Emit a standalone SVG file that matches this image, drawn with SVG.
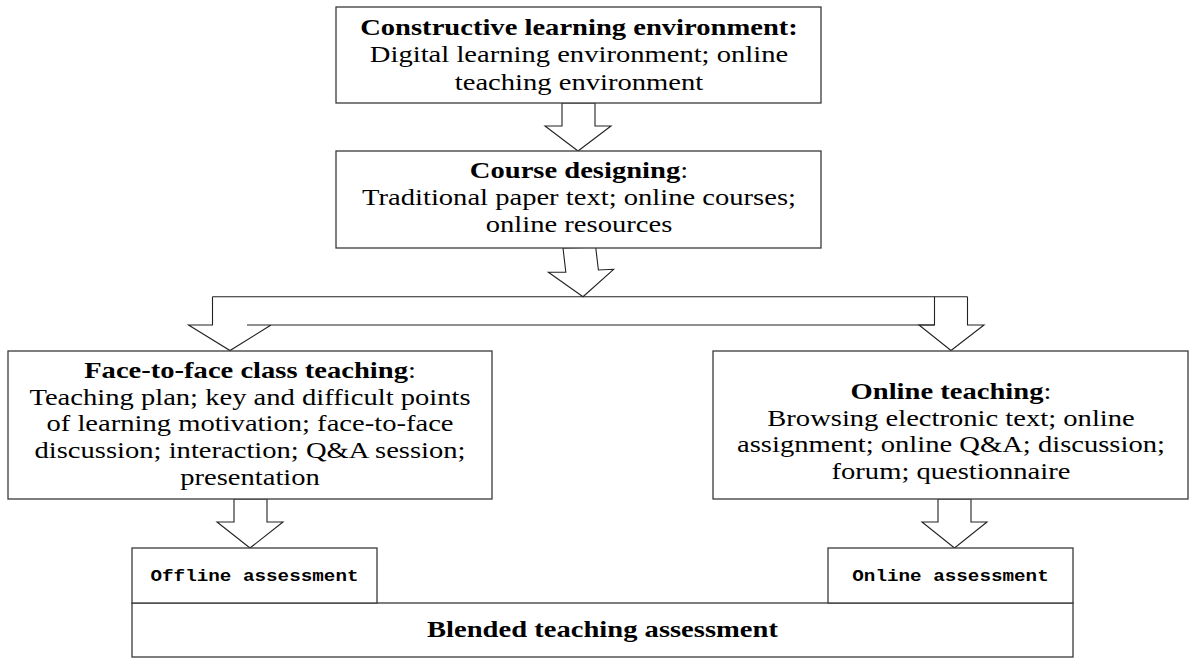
<svg xmlns="http://www.w3.org/2000/svg" width="1190" height="658" viewBox="0 0 1190 658">
<style>
.box{fill:#fff;stroke:#3a3a3a;stroke-width:1.3}
.arr{fill:#fff;stroke:#222;stroke-width:1.1;stroke-linejoin:miter}
.ln{fill:none;stroke:#222;stroke-width:1.1}
.t{font-family:"Liberation Serif","Times New Roman",serif;font-size:23px;fill:#000;text-anchor:middle}
.b{font-weight:bold}
.m{font-family:"Liberation Mono","Courier New",monospace;font-size:17px;font-weight:bold;fill:#000;text-anchor:middle}
</style>
<rect width="1190" height="658" fill="#fff"/>

<g id="connectors">
  <polygon class="arr" points="562,103 595,103 595,126 611,126 578,151 545,126 562,126"/>
  <polygon class="arr" points="563,248 595.7,247.3 598.4,270 613.6,269.3 583,296.7 548.4,272.3 565.8,272.3"/>
  <path class="ln" d="M212.5,296.7 L967.5,296.7"/>
  <path class="ln" d="M212.5,296.7 L212.5,325 L188.5,325 L230,350.5 L271,325 L247,325 L934.5,325 L934.5,296.7"/>
  <path class="ln" d="M934.5,325 L919,325 L951,350.5 L984,325 L967.5,325 L967.5,296.7"/>
  <polygon class="arr" points="234,499 267,499 267,522 283,522 250,548 217,522 234,522"/>
  <polygon class="arr" points="938,499 971,499 971,522 987,522 954.5,548 922,522 938,522"/>
</g>

<g id="node-constructive">
  <rect class="box" x="336" y="7" width="485" height="96"/>
  <g transform="translate(579 0) scale(1.243 1)">
    <text class="t b" x="0" y="35">Constructive learning environment:</text>
    <text class="t" x="0" y="62.5">Digital learning environment; online</text>
    <text class="t" x="0" y="90">teaching environment</text>
  </g>
</g>

<g id="node-course">
  <rect class="box" x="336" y="151" width="485" height="97"/>
  <g transform="translate(579 0) scale(1.243 1)">
    <text class="t" x="0" y="178"><tspan class="b">Course designing</tspan>:</text>
    <text class="t" x="0" y="205.5">Traditional paper text; online courses;</text>
    <text class="t" x="0" y="232">online resources</text>
  </g>
</g>

<g id="node-face">
  <rect class="box" x="8" y="351" width="484" height="148"/>
  <g transform="translate(250 0) scale(1.243 1)">
    <text class="t" x="0" y="378"><tspan class="b">Face-to-face class teaching</tspan>:</text>
    <text class="t" x="0" y="405">Teaching plan; key and difficult points</text>
    <text class="t" x="0" y="431.5">of learning motivation; face-to-face</text>
    <text class="t" x="0" y="458">discussion; interaction; Q&amp;A session;</text>
    <text class="t" x="0" y="485">presentation</text>
  </g>
</g>

<g id="node-online">
  <rect class="box" x="713" y="351" width="475" height="148"/>
  <g transform="translate(951 0) scale(1.243 1)">
    <text class="t" x="0" y="399"><tspan class="b">Online teaching</tspan>:</text>
    <text class="t" x="0" y="426">Browsing electronic text; online</text>
    <text class="t" x="0" y="452.5">assignment; online Q&amp;A; discussion;</text>
    <text class="t" x="0" y="479">forum; questionnaire</text>
  </g>
</g>

<g id="node-blended">
  <rect class="box" x="132" y="603" width="941" height="54"/>
  <g transform="translate(602.5 0) scale(1.243 1)">
    <text class="t b" x="0" y="637">Blended teaching assessment</text>
  </g>
</g>

<g id="node-offline-assessment">
  <rect class="box" x="132" y="548" width="245" height="55"/>
  <g transform="translate(254.5 0) scale(1.134 1)">
    <text class="m" x="0" y="581">Offline assessment</text>
  </g>
</g>

<g id="node-online-assessment">
  <rect class="box" x="828" y="548" width="245" height="55"/>
  <g transform="translate(950.5 0) scale(1.134 1)">
    <text class="m" x="0" y="581">Online assessment</text>
  </g>
</g>
</svg>
